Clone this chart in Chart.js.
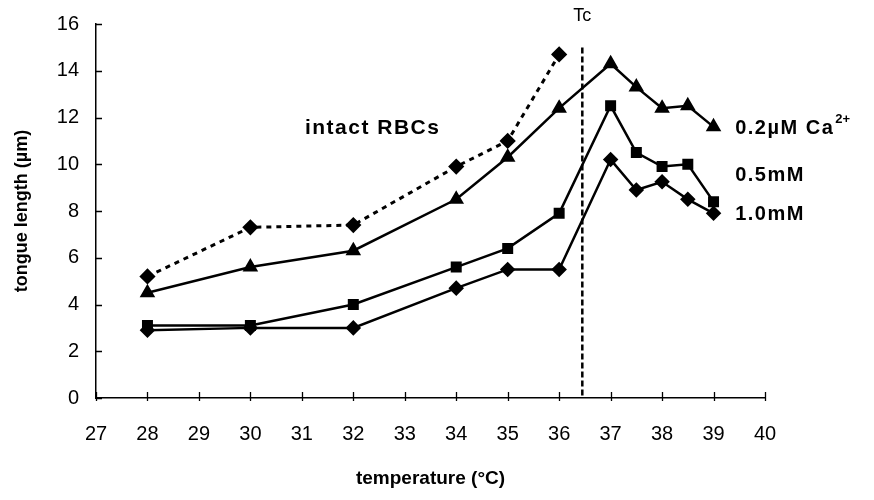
<!DOCTYPE html>
<html>
<head>
<meta charset="utf-8">
<script src="https://cdn.jsdelivr.net/npm/chart.js@4/dist/chart.umd.min.js"></script>
<style>
  html, body { margin: 0; padding: 0; background: #fff; }
  #wrap { width: 874px; height: 500px; position: relative; }
</style>
</head>
<body>
<div id="wrap"><canvas id="c" width="874" height="500"></canvas></div>
<script>
// ---- data ----
const temperatures = [28, 30, 32, 34, 35, 36, 37, 37.5, 38, 38.5, 39];
const intactRBCs = [5.2, 7.3, 7.4, 9.9, 11.0, 14.7];           // 28..36
const ca02uM = [4.5, 5.6, 6.3, 8.5, 10.3, 12.4, 14.3, 13.3, 12.4, 12.5, 11.6];
const ca05mM = [3.1, 3.1, 4.0, 5.6, 6.4, 7.9, 12.5, 10.5, 9.9, 10.0, 8.4];
const ca10mM = [2.9, 3.0, 3.0, 4.7, 5.5, 5.5, 10.2, 8.9, 9.25, 8.5, 7.9];
const xTicks = [27, 28, 29, 30, 31, 32, 33, 34, 35, 36, 37, 38, 39, 40];
const yTicks = [0, 2, 4, 6, 8, 10, 12, 14, 16];
const tcTemperature = 36.45;
const tcTop = 15;
const seriesLabels = ["0.2\u00b5M Ca", "0.5mM", "1.0mM"];

const pts = (vals) => vals.map((v, i) => ({ x: temperatures[i], y: v }));
const FONT = "'Liberation Sans', Arial, sans-serif";

const annot = {
  id: 'annot',
  afterDatasetsDraw(chart) {
    const { ctx, scales: { x, y } } = chart;
    ctx.save();
    // tick marks (inward, Excel style)
    ctx.strokeStyle = '#000';
    ctx.lineWidth = 1.3;
    const x0 = x.getPixelForValue(27), y0 = y.getPixelForValue(0);
    ctx.beginPath();
    xTicks.forEach(v => { const px = Math.round(x.getPixelForValue(v)) + 0.5; ctx.moveTo(px, y0 - 6); ctx.lineTo(px, y0 + 3); });
    yTicks.forEach(v => { const py = Math.round(y.getPixelForValue(v)) + 0.5; ctx.moveTo(x0, py); ctx.lineTo(x0 + 6, py); });
    ctx.stroke();

    // Tc dashed line
    const tx = x.getPixelForValue(tcTemperature);
    ctx.lineWidth = 2.5;
    ctx.setLineDash([6, 3]);
    ctx.beginPath();
    ctx.moveTo(tx, y.getPixelForValue(tcTop));
    ctx.lineTo(tx, y.getPixelForValue(0));
    ctx.stroke();
    ctx.setLineDash([]);

    ctx.fillStyle = '#000';
    ctx.textBaseline = 'middle';
    // Tc label
    ctx.textAlign = 'center';
    ctx.font = "18px " + FONT;
    ctx.fillText('Tc', tx, y.getPixelForValue(16.35));

    // intact RBCs
    ctx.textAlign = 'left';
    ctx.font = "bold 21px " + FONT;
    try { ctx.letterSpacing = '1.5px'; } catch (e) {}
    ctx.fillText('intact RBCs', x.getPixelForValue(31.06), y.getPixelForValue(11.55));

    // series labels
    ctx.font = "bold 20px " + FONT;
    const lx = x.getPixelForValue(39.42);
    const y1 = y.getPixelForValue(11.55);
    ctx.fillText(seriesLabels[0], lx, y1);
    const w = ctx.measureText(seriesLabels[0]).width;
    ctx.font = "bold 13px " + FONT;
    try { ctx.letterSpacing = '0px'; } catch (e) {}
    ctx.fillText('2+', lx + w + 1, y1 - 9);
    ctx.font = "bold 20px " + FONT;
    try { ctx.letterSpacing = '1.5px'; } catch (e) {}
    ctx.fillText(seriesLabels[1], lx, y.getPixelForValue(9.54));
    ctx.fillText(seriesLabels[2], lx, y.getPixelForValue(7.83));
    ctx.restore();
  }
};

new Chart(document.getElementById('c'), {
  type: 'scatter',
  data: {
    datasets: [
      { label: 'intact RBCs', data: pts(intactRBCs), showLine: true, borderColor: '#000', backgroundColor: '#000',
        borderWidth: 3, borderDash: [5, 5], pointStyle: 'rectRot', pointRadius: 6, pointHoverRadius: 6 },
      { label: '0.2uM', data: pts(ca02uM), showLine: true, borderColor: '#000', backgroundColor: '#000',
        borderWidth: 2.5, pointStyle: 'triangle', pointRadius: 6.5, pointHoverRadius: 6.5 },
      { label: '0.5mM', data: pts(ca05mM), showLine: true, borderColor: '#000', backgroundColor: '#000',
        borderWidth: 2.5, pointStyle: 'rect', pointRadius: 6, pointHoverRadius: 6 },
      { label: '1.0mM', data: pts(ca10mM), showLine: true, borderColor: '#000', backgroundColor: '#000',
        borderWidth: 2.5, pointStyle: 'rectRot', pointRadius: 6, pointHoverRadius: 6 }
    ]
  },
  options: {
    responsive: false,
    animation: false,
    devicePixelRatio: 1,
    layout: { padding: { top: 24, right: 109, left: 0, bottom: 0 } },
    plugins: { legend: { display: false }, tooltip: { enabled: false } },
    scales: {
      x: {
        type: 'linear', min: 27, max: 40,
        afterBuildTicks: (s) => { s.ticks = xTicks.map(v => ({ value: v })); },
        afterFit: (s) => { s.height = 102; s.paddingLeft = 0; s.paddingRight = 0; },
        border: { color: '#000', width: 1.5 },
        grid: { drawOnChartArea: false, drawTicks: false },
        ticks: { color: '#000', padding: 24, font: { family: FONT, size: 20 }, maxRotation: 0, autoSkip: false },
        title: { display: true, text: 'temperature (\u00b0C)', color: '#000',
                 font: { family: FONT, size: 19, weight: 'bold' }, padding: { top: 0, bottom: 10 } }
      },
      y: {
        type: 'linear', min: 0, max: 16,
        afterBuildTicks: (s) => { s.ticks = yTicks.map(v => ({ value: v })); },
        afterFit: (s) => { s.width = 96; s.paddingTop = 0; s.paddingBottom = 0; },
        border: { color: '#000', width: 1.5 },
        grid: { drawOnChartArea: false, drawTicks: false },
        ticks: { color: '#000', padding: 17, font: { family: FONT, size: 20 } },
        title: { display: true, text: 'tongue length (\u00b5m)', color: '#000',
                 font: { family: FONT, size: 18, weight: 'bold' }, padding: { top: 11, bottom: 0 } }
      }
    }
  },
  plugins: [annot]
});
</script>
</body>
</html>
